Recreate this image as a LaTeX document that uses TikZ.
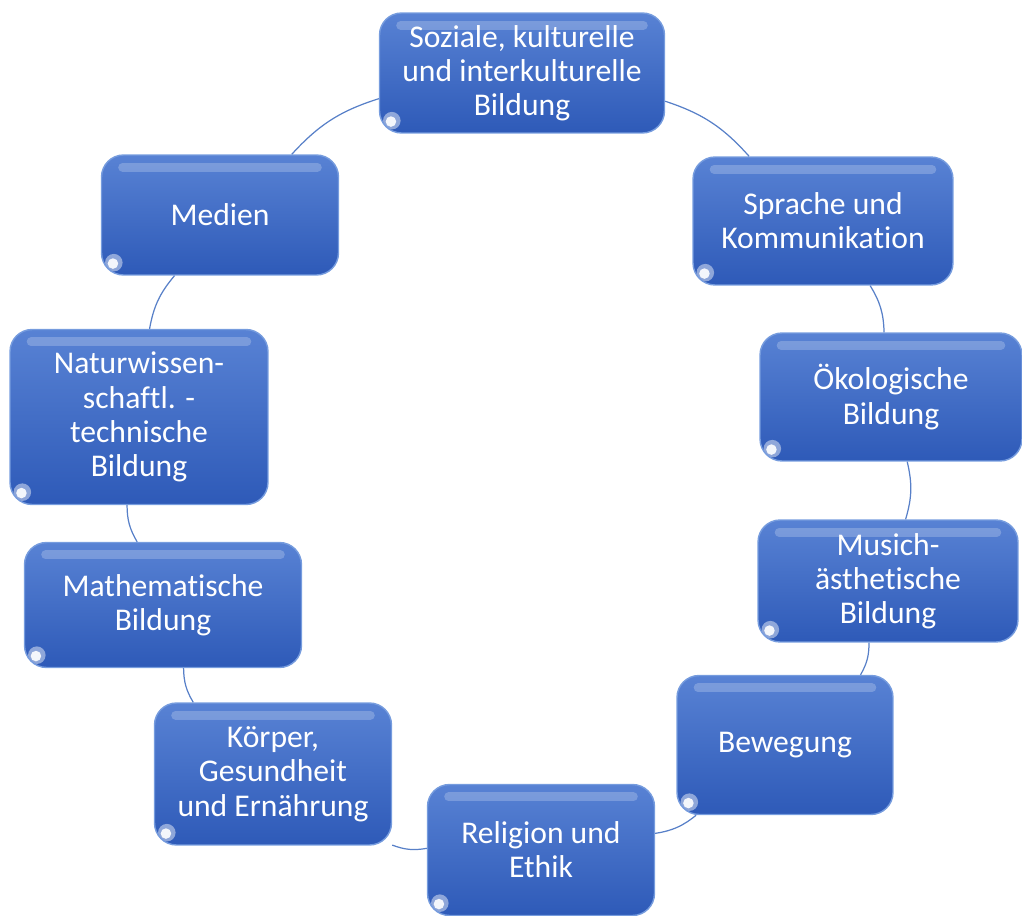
\documentclass[tikz,border=0pt]{standalone}
\usepackage{fontspec}
\setmainfont{Carlito}[Ligatures=NoCommon]
\usetikzlibrary{positioning,calc}

\definecolor{boxtop}{RGB}{88,130,212}
\definecolor{boxbot}{RGB}{46,90,184}
\definecolor{boxedge}{RGB}{118,156,222}
\definecolor{linkblue}{RGB}{88,128,200}

\tikzset{
  bereich/.style={draw=boxedge, line width=0.8pt, rounded corners=0.44cm,
    top color=boxtop, bottom color=boxbot, text=white, align=center,
    font=\fontsize{18}{19.5}\selectfont, inner sep=0pt,
    path picture={
      % glanzkante oben und lichtpunkt unten links
      \draw[white, opacity=0.22, line width=5pt, line cap=round]
        ($(path picture bounding box.north west)+(12pt,-7pt)$) --
        ($(path picture bounding box.north east)+(-12pt,-7pt)$);
      \fill[white, opacity=0.45]
        ($(path picture bounding box.south west)+(7pt,7pt)$) circle (5pt);
      \fill[white, opacity=0.9]
        ($(path picture bounding box.south west)+(6.5pt,6.5pt)$) circle (3pt);
    }},
  link/.style={draw=linkblue, line width=0.7pt}
}

\begin{document}
\begin{tikzpicture}[x=0.02cm, y=-0.02cm]
  \useasboundingbox (0,0) rectangle (1022,916);

  % bildungsbereiche im kreis
  \node[bereich, minimum width=5.7cm, minimum height=2.4cm] (soz) at (522,73) {Soziale, kulturelle\\und interkulturelle\\Bildung};
  \node[bereich, minimum width=5.2cm, minimum height=2.56cm] (spr) at (823,221) {Sprache und\\Kommunikation};
  \node[bereich, minimum width=5.24cm, minimum height=2.56cm] (oek) at (891,397) {Ökologische\\Bildung};
  \node[bereich, minimum width=5.2cm, minimum height=2.44cm] (mus) at (888,581) {Musich-\\ästhetische\\Bildung};
  \node[bereich, minimum width=4.32cm, minimum height=2.78cm] (bew) at (785,745) {Bewegung};
  \node[bereich, minimum width=4.54cm, minimum height=2.62cm] (rel) at (541,850) {Religion und\\Ethik};
  \node[bereich, minimum width=4.74cm, minimum height=2.84cm] (koe) at (273,774) {Körper,\\Gesundheit\\und Ernährung};
  \node[bereich, minimum width=5.54cm, minimum height=2.5cm] (mat) at (163,605) {Mathematische\\Bildung};
  \node[bereich, minimum width=5.16cm, minimum height=3.5cm] (nat) at (139,417) {Naturwissen-\\schaftl. -\\technische\\Bildung};
  \node[bereich, minimum width=4.74cm, minimum height=2.4cm] (med) at (220,215) {Medien};

  % verbindungen
  \draw[link] (soz) to[bend left=15] (spr);
  \draw[link] (spr) to[bend left=15] (oek);
  \draw[link] (oek) to[bend left=15] (mus);
  \draw[link] (mus) to[bend left=15] (bew);
  \draw[link] (bew) to[bend left=15] (rel);
  \draw[link] (rel) to[bend left=15] (koe);
  \draw[link] (koe) to[bend left=15] (mat);
  \draw[link] (mat) to[bend left=15] (nat);
  \draw[link] (nat) to[bend left=15] (med);
  \draw[link] (med) to[bend left=15] (soz);
\end{tikzpicture}
\end{document}
